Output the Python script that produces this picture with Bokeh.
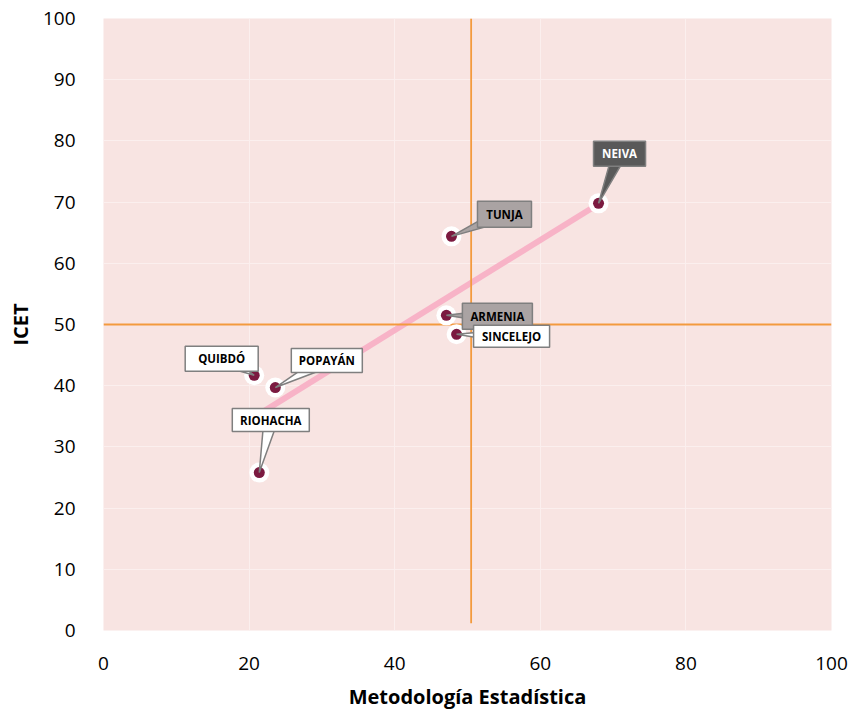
import numpy as np
from bokeh.plotting import figure
from bokeh.models import Range1d, FixedTicker, ColumnDataSource
from bokeh.core.properties import value
from bokeh.embed import file_html
from bokeh.resources import INLINE

# ---------------- data ----------------
cities = ["NEIVA", "TUNJA", "ARMENIA", "SINCELEJO", "QUIBDÓ", "POPAYÁN", "RIOHACHA"]
metodologia = [68.0, 47.8, 47.1, 48.5, 20.7, 23.6, 21.4]
icet = [69.8, 64.4, 51.5, 48.4, 41.7, 39.7, 25.8]
x_ticks = [0, 20, 40, 60, 80, 100]
y_ticks = [0, 10, 20, 30, 40, 50, 60, 70, 80, 90, 100]
ref_x = 50.5
ref_y = 50.0
ref_x_from = 1.2

# ---------------- layout / style ----------------
FW, FH = 728, 612
SX, SY = FW / 100.0, FH / 100.0  # px per data unit
label_dx = [21, 53, 51, 55, -32.5, 51.5, 11.5]     # px, box centre offset from point
label_dy = [49.5, 22, -1, -2, 16.5, 27, 52.5]       # px, upwards
label_w = [52, 54, 70, 76, 73, 71, 77]
label_h = [25, 26, 26, 22, 25, 24, 23]
label_fill = ["#595959", "#aaa3a3", "#aaa3a3", "#ffffff", "#ffffff", "#ffffff", "#ffffff"]
label_text = ["#ffffff", "#000000", "#000000", "#000000", "#000000", "#000000", "#000000"]
FONT = "Open Sans"

p = figure(frame_width=FW, frame_height=FH, output_backend="svg", toolbar_location=None,
           x_range=Range1d(0, 100), y_range=Range1d(0, 100),
           min_border_left=103, min_border_right=23, min_border_top=18, min_border_bottom=78)
p.background_fill_color = "#f8e4e2"
p.border_fill_color = "#ffffff"
p.outline_line_color = None

for ax in (p.xaxis[0], p.yaxis[0]):
    ax.axis_line_color = None
    ax.major_tick_line_color = None
    ax.minor_tick_line_color = None
    ax.major_label_text_font = FONT
    ax.major_label_text_font_size = "19px"
    ax.major_label_text_color = "#000000"
    ax.axis_label_text_font = FONT
    ax.axis_label_text_font_size = "20px"
    ax.axis_label_text_font_style = "bold"
    ax.axis_label_text_color = "#000000"

p.xaxis.ticker = FixedTicker(ticks=x_ticks)
p.yaxis.ticker = FixedTicker(ticks=y_ticks)
p.xaxis.axis_label = "Metodología Estadística"
p.yaxis.axis_label = "ICET"
p.xaxis.major_label_standoff = 20
p.yaxis.major_label_standoff = 22
p.xaxis.axis_label_standoff = 10
p.yaxis.axis_label_standoff = 6

p.xgrid.grid_line_color = "#fbefee"
p.ygrid.grid_line_color = "#fbefee"
p.xgrid.grid_line_width = 1
p.ygrid.grid_line_width = 1

# trend line (least squares)
slope, intercept = np.polyfit(metodologia, icet, 1)
tx = [min(metodologia), max(metodologia)]
ty = [slope * v + intercept for v in tx]
p.line(tx, ty, line_color="#f8b3c7", line_width=6)

# reference lines
p.segment(x0=[ref_x], y0=[ref_x_from], x1=[ref_x], y1=[100], line_color="#f39a3e", line_width=1.8)
p.segment(x0=[0], y0=[ref_y], x1=[100], y1=[ref_y], line_color="#f39a3e", line_width=1.8)

# points
p.scatter(metodologia, icet, size=20, fill_color="#ffffff", line_color=None)
p.scatter(metodologia, icet, size=11, fill_color="#7b1a40", line_color=None)

# callouts
cx, cy, bw, bh, px_, py_ = [], [], [], [], [], []
for xv, yv, dx, dy, w, h in zip(metodologia, icet, label_dx, label_dy, label_w, label_h):
    cxv = xv + dx / SX
    cyv = yv + dy / SY
    cx.append(cxv); cy.append(cyv); bw.append(w / SX); bh.append(h / SY)
    # pointer triangle: base at box centre, apex at point
    L = (dx ** 2 + dy ** 2) ** 0.5
    nx, ny = -dy / L, dx / L
    half = 7.0
    bx1, by1 = dx + nx * half, dy + ny * half
    bx2, by2 = dx - nx * half, dy - ny * half
    px_.append([xv + bx1 / SX, xv + bx2 / SX, xv])
    py_.append([yv + by1 / SY, yv + by2 / SY, yv])

src = ColumnDataSource(dict(cx=cx, cy=cy, w=bw, h=bh, fill=label_fill, tc=label_text, name=cities,
                            px=px_, py=py_))
p.patches("px", "py", source=src, fill_color="fill", line_color="#7f7f7f", line_width=1.5)
p.rect("cx", "cy", width="w", height="h", source=src, fill_color="fill", line_color="#7f7f7f", line_width=1.5)
p.text("cx", "cy", text="name", source=src, text_align="center", text_baseline="middle",
       text_font=value(FONT), text_font_style="bold", text_font_size="11.5px", text_color="tc")

open("out.html", "w").write(file_html(p, INLINE))
